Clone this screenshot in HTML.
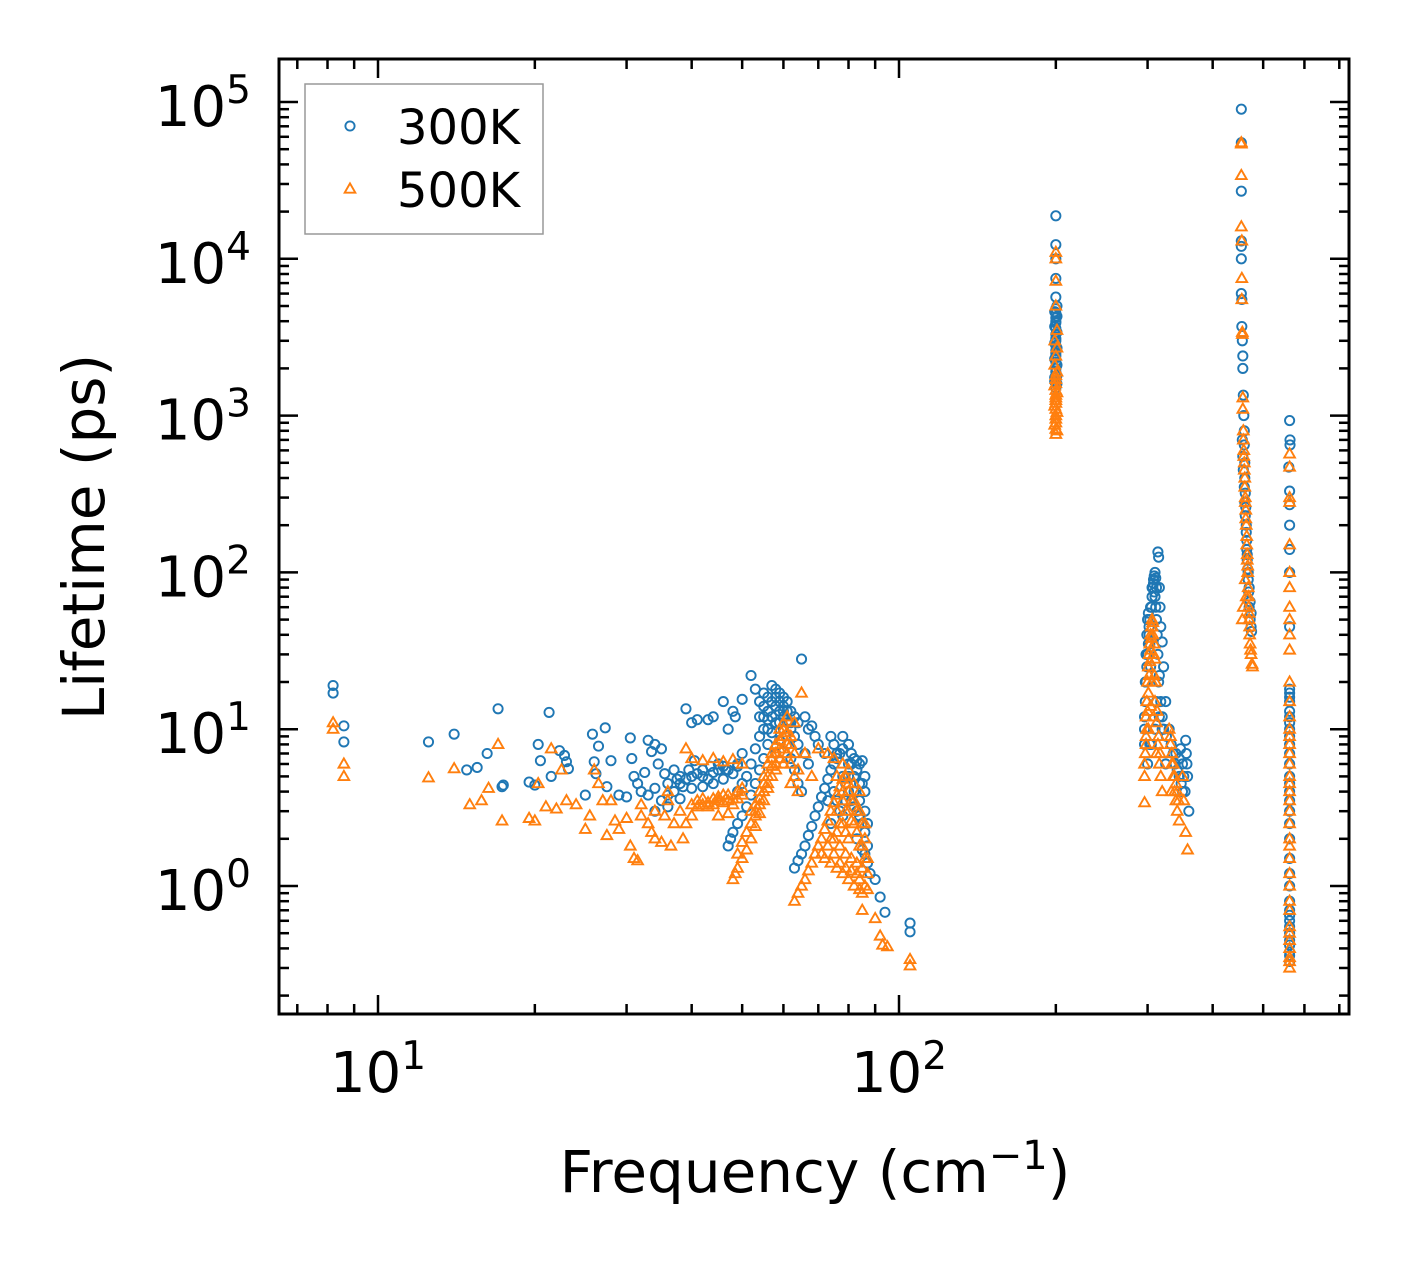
<!DOCTYPE html>
<html><head><meta charset="utf-8"><style>
html,body{margin:0;padding:0;background:#fff;}
svg{display:block;font-family:"DejaVu Sans","Liberation Sans",sans-serif;}
</style></head><body>
<svg id="chart" width="1409" height="1265" xmlns="http://www.w3.org/2000/svg"></svg>
<script>
const xTicks=[10,100];
const yTicks=[1,10,100,1000,10000,100000];
const seriesNames=["300K","500K"];
const pts300=[[8.2,19],[8.2,17],[8.6,10.5],[8.6,8.3],
[12.5,8.3],[14,9.3],[14.8,5.5],[15.5,5.7],[16.2,7],[17,13.5],[17.3,4.3],[17.4,4.4],[19.5,4.6],[20,4.4],[20.3,8],[20.5,6.3],[21.3,12.8],[21.5,5],[22.3,7.3],[22.8,6.8],[23,6.2],[23.2,5.6],[25,3.8],[25.8,9.3],[26,6.2],[26.2,5.2],[26.5,7.8],[27.3,10.2],[27.5,4.3],[28,6.3],[29,3.8],[30,3.7],[30.5,8.8],[30.7,6.5],[31,5],[31.5,4.5],[32.5,5.3],[33,8.5],[33.5,7.2],[34,8],[34.5,6],[35,7.5],[35.5,5.2],[36,4.5],[37,5.5],[37.5,4.8],[38,5],[38.5,4.3],[39,13.5],[39.5,5.5],[40,11],[40.5,6.3],[41,11.5],[42,5.5],[43,11.5],[43.5,5.8],[44,12],[45,6],[46,15],[46.5,5.5],[47,10],[48,13],[48.5,12],[49,5.8],[50,15.5],[50,7],
[32,4],[33,3.8],[34,4.2],[35,3.5],[36,3.8],[37,4],[38,4.5],[39,4.8],[40,5],[41,5.2],[42,5],[43,4.8],[44,5.3],[45,5.5],[46,5.8],[47,5.5],[48,5.2],[49,6],[34,3],[36,3.2],[38,3.6],[40,4.2],[42,4.3],[44,4.5],[46,4.8],
[47,1.8],[47.5,2],[48,2.2],[49,2.5],[50,2.8],[51,3.2],[52,3.8],[53,4.5],[54,5.5],[55,6.5],[56,8],[57,9.5],[58,11],[59,13],[60,14],[56,10],[55,12],[54,9],[53,7.5],[52,6],[51,5],[50,4.5],[49,4],
[52,22],[53,18],[54,15],[55,17],[56,16],[57,19],[58,18],[59,17],[60,16],[61,15],[62,13],[63,12],[64,11],[65,28],[66,12],[67,10],[68,10.5],[69,9],[70,8],[72,7],[74,9],[75,8],[76,7],[78,9],[80,8],[81,7],[82,6.5],[83,6.3],[85,6.3],
[60,10],[61,8],[62,6.5],[63,5.5],[64,4.5],[65,4],[58,7],[59,8.5],
[63,1.3],[64,1.45],[65,1.6],[66,1.8],[67,2.1],[68,2.4],[69,2.8],[70,3.2],[71,3.7],[72,4.2],[73,4.8],[74,5.5],[75,6],[76,6.5],[77,7],[78,7.5],
[78,5],[79,4.5],[80,4],[81,3.5],[82,3.2],[83,3],[84,2.8],[85,2.5],[86,2.2],[87,1.8],[86,1.6],[87,1.4],[88,1.2],[80,6],[82,5],[84,4.5],[86,4],[83,2],[85,1.7],
[90,1.1],[92,0.85],[94,0.68],[105,0.58],[105,0.51],
[200,18800],[200,12300],[200,10000],[200,7500],[200,5700],[201,5000],[199,4600],[201,4300],[200,4000],[199,3700],[201,3400],[200,3100],[199,2900],[201,2700],[200,2500],[199,2300],[201,2100],[200,1900],[199,1750],[201,1600],[200,1500],
[296,10],[296,8],[296,12],[297,15],[297,20],[298,30],[299,40],[300,50],[301,55],[302,45],[303,35],[304,25],[305,60],[306,70],[307,80],[308,90],[309,95],[310,100],[311,92],[312,80],[314,135],[315,125],[316,80],[317,60],[318,45],[320,36],[322,25],[325,15],[330,10],[333,8],[336,7],[339,6],[342,5.5],[345,5],[348,4.5],[350,4],[355,8.5],[356,7],[357,6],[358,5],[360,3],[315,20],[312,15],[310,10],[305,8],[300,6],[320,10],[325,6],[316,12],[303,8],
[454,90000],[454,55000],[454,27000],[454,13000],[454,12000],[454,10000],[454,6000],[455,5500],[455,3700],[456,3000],[457,2400],[457,2000],[458,1350],[459,1000],[460,800],[460,650],[461,500],[461,400],[462,320],[463,260],[464,200],[465,160],[466,130],[467,105],[468,90],[469,75],[470,60],[472,50],[474,45],[475,42],
[562,930],[563,700],[563,650],[560,470],[562,330],[562,270],[562,200],[562,140],[562,100],[562,45],[562,18],[562,15],[562,12],[562,10],[562,8],[562,6],[562,5],[562,4],[562,3],[562,2],[562,1.5],[562,1],[562,0.65],[562,0.55],[562,0.45],[562,0.38],[562,0.33]];
const extra300=[[54,12],[55,14],[56,13],[57,15],[58,14],[59,15],[60,12],[61,11],[62,10],[57,12],[58,16],[59,11],[60,13],[56,11.5],[55,10],[61,13],[62,11],[63,9],[64,8],[66,7],[67,6],
[75,4],[76,3.5],[77,3],[78,2.8],[79,3.5],[80,5],[81,6],[82,4],[83,5.5],[84,3.5],[85,4.5],[86,3],[87,2.5],[84,6],[86,5],[74,2.5],[73,3.5],
[200,2000],[200,2200],[200,2400],[200,2600],[200,2800],[200,3000],[200,3300],[200,3600],[200,3900],[200,4200],[200,4500],[200,4800],[199,1650],[201,1800],
[456,700],[457,550],[458,450],[460,350],[461,280],[462,230],[464,180],[465,140],[466,120],[468,100],[470,80],[472,65],[474,55],
[562,0.6],[562,0.5],[562,0.42],[562,0.36],[562,0.7],[562,0.8],[562,1.2],[562,2.5],[562,3.5],[562,4.5],[562,7],[562,9],[562,11],[562,13],[562,16],[562,17],
[298,20],[299,25],[300,30],[301,35],[302,40],[303,50],[304,60],[306,80],[308,85],[309,75],[310,70],[311,60],[312,50],[313,40],[314,30],[316,22],[318,15],[320,12],[322,10],[326,9],[340,7],[345,6.5],[350,6],[352,5],[354,4],[347,7.5]];
const pts500=[[8.2,11],[8.2,10],[8.6,6],[8.6,5],[12.5,4.9],[14,5.6],[15,3.3],[15.8,3.5],[16.3,4.2],[17,8],[17.3,2.6],[19.5,2.7],[20,2.6],[20.3,4.5],[21,3.2],[21.5,7.5],[22,3.1],[22.5,5.5],[23,3.5],[24,3.3],[25,2.3],[25.5,2.8],[26,5.5],[26.5,4.5],[27,3.5],[27.5,2.1],[28,3.5],[28.5,2.6],[29,2.3],[30,2.7],[30.5,1.8],[31,1.5],[31.5,1.45],[32,2.8],[33,2.5],[33.5,2.2],[34,2],[35,1.9],[35.5,2.8],[36,3.5],[36.5,1.8],[37,2.5],[38,3],[38.5,2],[39,2.5],[40,2.8],[41,3.5],[42,3.3],[43,3.4],[44,3.6],[45,3.5],[46,3.8],[47,3.5],[48,3.6],[49,4],[50,4.2],[40,6.5],[42,6.3],[44,6.5],[46,6.2],[48,6.4],[39,7.5],[50,6],[36,4],[34,3],[32,3.3],[45,2.8],[47,2.9],
[48,1.1],[48.5,1.2],[49,1.3],[50,1.5],[51,1.7],[52,2],[53,2.4],[54,2.9],[55,3.5],[56,4.2],[57,5],[58,6],[59,7.5],[60,9],[61,8],[55,5],[54,4],[53,3.3],[52,3],[57,7],[56,6],[58,8],[59,10],[60,11],[61,12],[62,9],[63,7],[64,5.5],[65,17],[66,7],[63,11],[60,6],[62,4.5],
[63,0.8],[64,0.9],[65,1],[66,1.1],[67,1.25],[68,1.4],[69,1.6],[70,1.8],[71,2],[72,2.3],[73,2.6],[74,3],[75,3.4],[76,3.8],[77,4.3],[78,4.8],[79,5],[80,4.5],
[72,1.5],[74,1.4],[76,1.3],[78,1.2],[80,1.1],[82,1],[84,0.95],[85,0.9],[86,1],[87,0.95],[75,2],[77,2.5],[79,3],[81,3.5],[83,3],[85,2.5],[86,2],[87,1.5],[80,2],[82,2.5],[84,1.8],[76,5],[78,6],[73,7],[75,6.5],[70,7.5],[68,5],[81,1.5],[83,1.2],[79,1.6],
[85,0.7],[90,0.62],[92,0.48],[93,0.42],[95,0.41],[105,0.34],[105,0.31],
[200,11000],[200,10000],[200,7200],[200,5000],[201,3500],[199,3000],[201,2700],[200,2400],[199,2100],[201,1900],[200,1700],[199,1550],[201,1400],[200,1250],[199,1150],[201,1050],[200,950],[199,870],[201,800],[200,760],
[296,3.4],[296,5],[296,6],[297,7],[298,9],[298,12],[299,15],[300,20],[301,25],[302,30],[303,35],[304,40],[305,45],[306,50],[307,40],[308,30],[309,22],[310,15],[312,11],[314,8],[316,6],[318,5],[320,4],[301,10],[304,14],[306,20],[308,12],[312,7],[330,10],[332,8],[334,6],[336,5],[338,4],[340,3.5],[342,3],[345,2.6],[350,5],[352,3.5],[355,2.2],[358,1.7],[333,4],
[454,55000],[454,54000],[454,34000],[454,16000],[455,13000],[455,7500],[455,5500],[456,3400],[456,3300],[457,1300],[457,1100],[458,800],[459,600],[460,500],[461,400],[462,300],[463,250],[464,200],[465,150],[466,120],[467,100],[468,80],[469,60],[470,50],[471,40],[472,35],[474,30],[476,26],[477,25],[462,90],[464,70],[458,60],[456,50],
[562,570],[562,470],[562,300],[562,280],[562,150],[562,100],[562,80],[562,60],[562,50],[562,40],[562,32],[562,20],[562,12],[562,10],[562,8],[562,6],[562,5],[562,4],[562,3],[562,2],[562,1.5],[562,1],[562,0.7],[562,0.5],[562,0.4],[562,0.33],[562,0.3]];
const extra500=[[53,2.8],[54,3.3],[55,4],[56,5],[57,5.8],[58,7],[59,8.5],[60,10],[61,9.5],[62,8],[57,6.5],[58,5.5],[59,6.5],[60,7.5],[61,7],[62,6],[56,4.5],[55,4.5],[54,3.6],[53,3],[52,2.5],[51,2.2],[50,1.9],[49,1.6],[63,5],[64,4],
[74,2],[76,2.2],[78,2.5],[80,3],[82,3.5],[84,3],[86,2.5],[77,1.8],[79,2.2],[81,2.6],[83,2.2],[85,1.8],[76,3],[78,3.5],[80,4],[82,4.5],[84,4],[78,4],[80,5.5],[75,1.6],[77,1.4],[79,1.3],[81,1.25],[83,1.4],[85,1.3],[87,1.2],[73,1.8],[71,1.6],[86,1.5],[84,1.1],
[40,3.3],[41,3.2],[42,3.6],[43,3.2],[44,3.3],[45,3.7],[46,3.4],[47,3.8],[48,3.3],[49,3.6],[50,3.8],
[200,1000],[200,1100],[200,1200],[200,1300],[200,1350],[200,1450],[200,1600],[200,1800],[200,900],[200,820],
[458,700],[459,550],[460,450],[461,350],[462,280],[463,220],[465,170],[466,130],[467,110],[469,70],[470,55],[471,45],[473,32],
[562,0.35],[562,0.45],[562,0.55],[562,0.8],[562,1.2],[562,1.8],[562,2.5],[562,3.5],[562,4.5],[562,7],[562,9],[562,15],
[298,8],[299,10],[300,13],[301,17],[302,22],[303,27],[304,32],[305,38],[306,45],[307,48],[309,35],[310,28],[311,20],[313,13],[315,9],[317,7],[332,9],[334,7],[336,6],[338,5],[340,4.5],[342,4],[344,3.5]];

const NS="http://www.w3.org/2000/svg";
const svg=document.getElementById('chart');
const L=279,R=1349,T=59,B=1014;
const xLo=1-99/521,xHi=2+450/521;
const yLo=-128/156.8,yHi=5+43/156.8;
function sx(v){return L+(Math.log10(v)-xLo)/(xHi-xLo)*(R-L);}
function sy(v){return B-(Math.log10(v)-yLo)/(yHi-yLo)*(B-T);}
function mk(tag,attrs,parent){const e=document.createElementNS(NS,tag);for(const k in attrs)e.setAttribute(k,attrs[k]);(parent||svg).appendChild(e);return e;}

const gPts=mk('g',{});


pts300.concat(extra300).forEach(p=>{
  const c=mk('circle',{cx:sx(p[0]),cy:sy(p[1]),r:4.6,fill:'none',stroke:'#1f77b4','stroke-width':1.9},gPts);
  
  
});
function tri(x,y,s){return `${x},${y-s} ${x-s*0.95},${y+s*0.65} ${x+s*0.95},${y+s*0.65}`;}
pts500.concat(extra500).forEach(p=>{
  const t=mk('polygon',{points:tri(sx(p[0]),sy(p[1]),5.6),fill:'none',stroke:'#ff7f0e','stroke-width':1.9},gPts);
  
  
});

const gAx=mk('g',{stroke:'#000','stroke-width':2.5});


function xt(v,len){const x=sx(v);mk('line',{x1:x,y1:B,x2:x,y2:B-len},gAx);mk('line',{x1:x,y1:T,x2:x,y2:T+len},gAx);}
function yt(v,len){const y=sy(v);mk('line',{x1:L,y1:y,x2:L+len,y2:y},gAx);mk('line',{x1:R,y1:y,x2:R-len,y2:y},gAx);}
[7,8,9,20,30,40,50,60,70,80,90,200,300,400,500,600,700].forEach(v=>xt(v,10));
xTicks.forEach(v=>xt(v,19));
for(let d=-1;d<=5;d++)for(let m=2;m<=9;m++){const v=m*Math.pow(10,d);if(Math.log10(v)>yLo&&Math.log10(v)<yHi)yt(v,10);}
yTicks.forEach(v=>yt(v,19));
const fr=mk('rect',{x:L,y:T,width:R-L,height:B-T,fill:'none',stroke:'#000','stroke-width':3});



function pow10Label(x,y,exp,anchor,name){
  const t=mk('text',{x:x,y:y,'font-size':56,'text-anchor':anchor,fill:'#000'});
  
  
  const a=document.createElementNS(NS,'tspan');a.textContent='10';t.appendChild(a);
  const b=document.createElementNS(NS,'tspan');b.setAttribute('dy','-23');b.setAttribute('font-size','39');b.textContent=String(exp);t.appendChild(b);
}
xTicks.forEach(v=>pow10Label(sx(v),1092,Math.round(Math.log10(v)),'middle','x-tick-label'));
yTicks.forEach(v=>pow10Label(251,sy(v)+24,Math.round(Math.log10(v)),'end','y-tick-label'));

const xt1=mk('text',{x:815,y:1192,'font-size':58,'text-anchor':'middle',fill:'#000'});


xt1.innerHTML='Frequency (cm<tspan dy="-23" font-size="40">−1</tspan><tspan dy="23">)</tspan>';
const yt1=mk('text',{x:0,y:0,'font-size':58,'text-anchor':'middle',fill:'#000',transform:'translate(104,537) rotate(-90)'});


yt1.textContent='Lifetime (ps)';

const lg=mk('g',{});


mk('rect',{x:305,y:84,width:238,height:150,fill:'#fff',stroke:'#999','stroke-width':1.5},lg);
const lc=mk('circle',{cx:350,cy:126,r:4.6,fill:'none',stroke:'#1f77b4','stroke-width':1.9},lg);


const lt=mk('polygon',{points:tri(350,189,5.6),fill:'none',stroke:'#ff7f0e','stroke-width':1.9},lg);


seriesNames.forEach((n,i)=>{
  const t=mk('text',{x:397,y:144+i*63,'font-size':48,fill:'#000'},lg);
  
  
  t.textContent=n;
});
</script>
</body></html>
